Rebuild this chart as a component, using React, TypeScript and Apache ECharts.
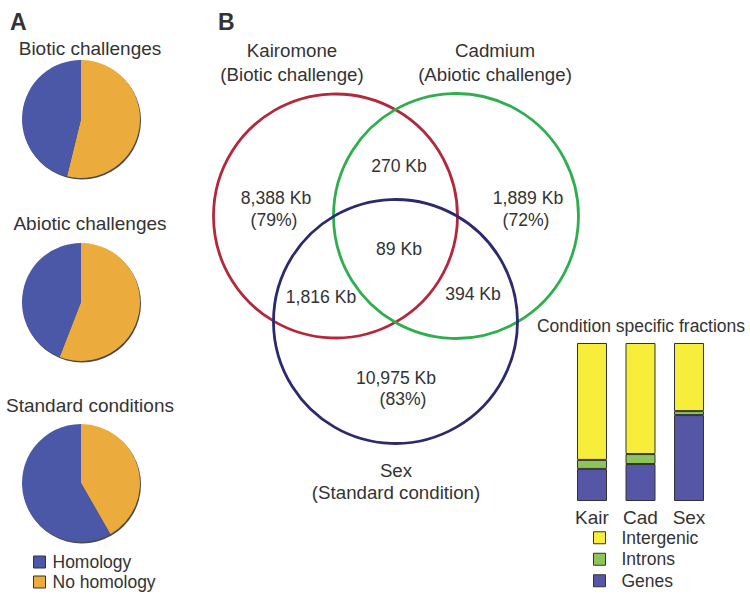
import React, { useEffect, useRef } from "react";
import * as echarts from "echarts";

// ---------- Data ----------
const pieTitles = ["Biotic challenges", "Abiotic challenges", "Standard conditions"];
const pieCategories = ["No homology", "Homology"];
const pieNoHomology = [53.8, 55.9, 41.7];
const pieHomology = [46.2, 44.1, 58.3];

const vennSetNames = ["Kairomone", "Cadmium", "Sex"];
const vennSetSubtitles = ["(Biotic challenge)", "(Abiotic challenge)", "(Standard condition)"];
const vennRegionLabels = ["8,388 Kb", "1,889 Kb", "10,975 Kb", "270 Kb", "1,816 Kb", "394 Kb", "89 Kb"];
const vennRegionPercents = ["(79%)", "(72%)", "(83%)", "", "", "", ""];

const barCategories = ["Kair", "Cad", "Sex"];
const barGenes = [20.3, 23.4, 54.4];
const barIntrons = [5.7, 6.3, 2.5];
const barIntergenic = [74.0, 70.3, 43.1];

// ---------- Layout (positions/styles, not data) ----------
const FONT = "'Liberation Sans', Arial, Helvetica, sans-serif";
const TEXT = "#333333";
const pieCenters = [[81, 119], [81, 302], [81, 483]];
const pieTitlePos = [[90, 48], [90, 223], [90, 405]];
const pieRadius = 59;
const vennCircles = [[335.5, 216, 122], [456, 216, 122.5], [395.5, 321.5, 122]];
const vennColors = ["#b3283b", "#2fae4e", "#2a2a6c"];
const vennSetNamePos = [[292, 50], [495, 50], [396, 470]];
const vennSetSubPos = [[292, 74], [495, 74], [396, 492]];
const vennRegionPos = [[276, 198], [528, 198], [396, 378], [399, 166], [321, 297], [473, 294], [399, 249]];
const vennPercentPos = [[274, 220], [526, 220], [403, 399]];

const COLORS = {
  homology: "#4b58a7",
  noHomology: "#ebab3d",
  genes: "#5656a6",
  introns: "#8ec55a",
  intergenic: "#f6ee3a",
};

function buildOption() {
  const graphics: any[] = [];
  const txt = (text: string, x: number, y: number, size: number, align = "center", weight = "normal") => ({
    type: "text",
    x,
    y,
    silent: true,
    style: {
      text,
      fontSize: size,
      fontFamily: FONT,
      fontWeight: weight,
      fill: TEXT,
      align,
      verticalAlign: "middle",
    },
  });
  graphics.push(txt("A", 10, 22, 23, "left", "bold"));
  graphics.push(txt("B", 218, 22, 23, "left", "bold"));
  pieTitles.forEach((t, i) => graphics.push(txt(t, pieTitlePos[i][0], pieTitlePos[i][1], 19)));
  vennSetNames.forEach((t, i) => graphics.push(txt(t, vennSetNamePos[i][0], vennSetNamePos[i][1], 18.7)));
  vennSetSubtitles.forEach((t, i) => graphics.push(txt(t, vennSetSubPos[i][0], vennSetSubPos[i][1], 18.7)));
  graphics.push(txt("Condition specific fractions", 641, 326, 17.5));

  const series: any[] = [];

  // pie shadows + pies
  pieTitles.forEach((t, i) => {
    series.push({
      type: "pie",
      name: "shadow" + i,
      center: [pieCenters[i][0] + 1, pieCenters[i][1] + 1.5],
      radius: pieRadius,
      silent: true,
      label: { show: false },
      labelLine: { show: false },
      itemStyle: { color: "#4a4a4a" },
      data: [{ name: "_shadow", value: 1 }],
      z: 1,
    });
    series.push({
      type: "pie",
      name: t,
      center: pieCenters[i],
      radius: pieRadius,
      startAngle: 90,
      clockwise: true,
      silent: true,
      label: { show: false },
      labelLine: { show: false },
      emphasis: { disabled: true },
      data: [
        { name: pieCategories[0], value: pieNoHomology[i], itemStyle: { color: COLORS.noHomology } },
        { name: pieCategories[1], value: pieHomology[i], itemStyle: { color: COLORS.homology } },
      ],
      z: 2,
    });
  });

  // stacked bars
  const barSeries = [
    { name: "Genes", data: barGenes, color: COLORS.genes },
    { name: "Introns", data: barIntrons, color: COLORS.introns },
    { name: "Intergenic", data: barIntergenic, color: COLORS.intergenic },
  ];
  barSeries.forEach((s) =>
    series.push({
      type: "bar",
      name: s.name,
      stack: "frac",
      xAxisIndex: 0,
      yAxisIndex: 0,
      barWidth: 30,
      silent: true,
      data: s.data,
      itemStyle: { color: s.color, borderColor: "#333", borderWidth: 1 },
    })
  );

  // venn circles
  series.push({
    type: "custom",
    name: "venn",
    xAxisIndex: 1,
    yAxisIndex: 1,
    silent: true,
    data: vennCircles,
    renderItem: (params: any, api: any) => {
      const c = api.coord([api.value(0), api.value(1)]);
      const r = api.size([api.value(2), 0])[0];
      return {
        type: "circle",
        shape: { cx: c[0], cy: c[1], r },
        style: { fill: "none", stroke: vennColors[params.dataIndex], lineWidth: 2.8 },
      };
    },
    z: 3,
  });

  // venn region labels
  const regionData = vennRegionLabels.map((l, i) => [vennRegionPos[i][0], vennRegionPos[i][1], i]);
  series.push({
    type: "custom",
    name: "vennLabels",
    xAxisIndex: 1,
    yAxisIndex: 1,
    silent: true,
    data: regionData,
    renderItem: (params: any, api: any) => {
      const i = params.dataIndex;
      const c = api.coord([api.value(0), api.value(1)]);
      const children: any[] = [
        {
          type: "text",
          x: c[0],
          y: c[1],
          style: {
            text: vennRegionLabels[i],
            fontSize: 17.6,
            fontFamily: FONT,
            fill: TEXT,
            align: "center",
            verticalAlign: "middle",
          },
        },
      ];
      if (vennRegionPercents[i]) {
        const p = api.coord(vennPercentPos[i]);
        children.push({
          type: "text",
          x: p[0],
          y: p[1],
          style: {
            text: vennRegionPercents[i],
            fontSize: 17.6,
            fontFamily: FONT,
            fill: TEXT,
            align: "center",
            verticalAlign: "middle",
          },
        });
      }
      return { type: "group", children };
    },
    z: 4,
  });

  return {
    animation: false,
    backgroundColor: "#ffffff",
    textStyle: { fontFamily: FONT },
    grid: [
      { left: 567.75, top: 343, width: 145.5, height: 158 },
      { left: 0, top: 0, width: 750, height: 597 },
    ],
    xAxis: [
      {
        type: "category",
        gridIndex: 0,
        data: barCategories,
        axisLine: { show: false },
        axisTick: { show: false },
        axisLabel: { fontSize: 19, color: TEXT, margin: 7, fontFamily: FONT },
      },
      { type: "value", gridIndex: 1, min: 0, max: 750, show: false },
    ],
    yAxis: [
      { type: "value", gridIndex: 0, min: 0, max: 100, show: false },
      { type: "value", gridIndex: 1, min: 0, max: 597, inverse: true, show: false },
    ],
    legend: [
      {
        data: ["Homology", "No homology"],
        orient: "vertical",
        left: 33,
        top: 552,
        padding: 0,
        itemWidth: 12,
        itemHeight: 12,
        itemGap: 0,
        icon: "rect",
        selectedMode: false,
        itemStyle: { borderColor: "#333", borderWidth: 1, shadowBlur: 0, shadowColor: "transparent" },
        textStyle: { fontSize: 17.5, color: TEXT, fontFamily: FONT, lineHeight: 20, padding: [0, 0, 0, 2] },
      },
      {
        data: ["Intergenic", "Introns", "Genes"],
        orient: "vertical",
        left: 593,
        top: 527,
        padding: 0,
        itemWidth: 12,
        itemHeight: 12,
        itemGap: 0,
        icon: "rect",
        selectedMode: false,
        itemStyle: { borderColor: "#333", borderWidth: 1 },
        textStyle: { fontSize: 17.5, color: TEXT, fontFamily: FONT, lineHeight: 21.5, padding: [0, 0, 0, 11] },
      },
    ],
    graphic: graphics,
    series,
  };
}

export default function App() {
  const ref = useRef<HTMLDivElement>(null);
  useEffect(() => {
    if (!ref.current) return;
    const chart = echarts.init(ref.current, undefined, { renderer: "svg" });
    chart.setOption(buildOption() as any);
    return () => chart.dispose();
  }, []);
  return (
    <div
      ref={ref}
      style={{ position: "fixed", left: 0, top: 0, width: 750, height: 597, background: "#fff" }}
    />
  );
}
